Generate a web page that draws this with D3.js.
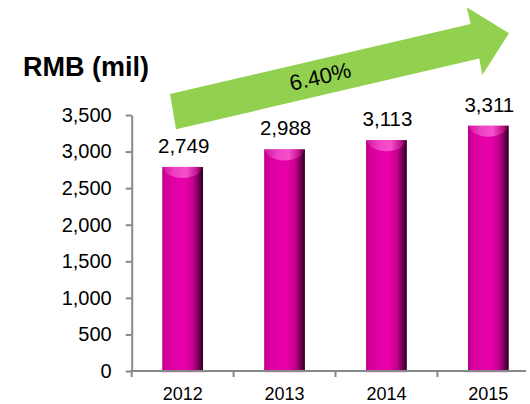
<!DOCTYPE html>
<html>
<head>
<meta charset="utf-8">
<script src="https://cdn.jsdelivr.net/npm/d3@7"></script>
<style>
  html, body { margin: 0; padding: 0; background: #ffffff; }
  svg { display: block; font-family: "Liberation Sans", Arial, sans-serif; }
</style>
</head>
<body>
<svg id="chart" width="530" height="404"></svg>
<script>
const categories = ["2012", "2013", "2014", "2015"];
const values = [2749, 2988, 3113, 3311];
const yTicks = [0, 500, 1000, 1500, 2000, 2500, 3000, 3500];
const unitLabel = "RMB (mil)";
const growthLabel = "6.40%";

const svg = d3.select("#chart");
const axisColor = "#898989";

const x = d3.scaleBand().domain(categories).range([131.7, 539.3])
  .paddingInner(0.6).paddingOuter(0.3);
const y = d3.scaleLinear().domain([0, 3500]).range([371, 115]);

// gradients
const defs = svg.append("defs");
const g1 = defs.append("linearGradient").attr("id", "barGrad")
  .attr("x1", "0%").attr("x2", "100%").attr("y1", "0%").attr("y2", "0%");
[["0%", "#b8007e"], ["8%", "#d2009a"], ["30%", "#e200a6"], ["55%", "#e800aa"],
 ["75%", "#c8008f"], ["88%", "#7a005a"], ["100%", "#2c0020"]]
  .forEach(([o, c]) => g1.append("stop").attr("offset", o).attr("stop-color", c));
const g2 = defs.append("linearGradient").attr("id", "capGrad")
  .attr("x1", "0%").attr("x2", "100%").attr("y1", "0%").attr("y2", "0%");
[["0%", "#d0129a"], ["30%", "#f040c4"], ["60%", "#f650cc"], ["85%", "#c2108e"], ["100%", "#4a0036"]]
  .forEach(([o, c]) => g2.append("stop").attr("offset", o).attr("stop-color", c));

// arrow (annotation)
const arrowPts = [[170, 94], [470.7, 24], [466.7, 7.3], [509, 33.3], [482.3, 75], [479.3, 58.5], [176, 129.3]];
svg.append("polygon")
  .attr("points", arrowPts.map(p => p.join(",")).join(" "))
  .attr("fill", "#92d050");
svg.append("text")
  .attr("transform", "translate(322,84) rotate(-13.1)")
  .attr("text-anchor", "middle")
  .attr("font-size", 22)
  .attr("fill", "#000")
  .text(growthLabel);

// title
svg.append("text")
  .attr("x", 23).attr("y", 76)
  .attr("font-size", 27).attr("font-weight", "bold")
  .attr("fill", "#000")
  .text(unitLabel);

// bars
const capOff = 3;
const bars = svg.append("g").selectAll("g").data(values).join("g");
bars.append("rect")
  .attr("x", (d, i) => x(categories[i]) - 0.5)
  .attr("y", y(0) - 1)
  .attr("width", x.bandwidth() + 1)
  .attr("height", 2.5)
  .attr("fill", "#f7b8e4");
bars.append("rect")
  .attr("x", (d, i) => x(categories[i]))
  .attr("y", d => y(d) - capOff)
  .attr("width", x.bandwidth())
  .attr("height", d => y(0) - y(d) + capOff)
  .attr("fill", "url(#barGrad)");
bars.append("path")
  .attr("d", (d, i) => {
    const x0 = x(categories[i]), w = x.bandwidth(), t = y(d) - capOff;
    return `M${x0},${t} L${x0 + w},${t} L${x0 + w - 5},${t + 7} Q${x0 + w / 2},${t + 15} ${x0 + 5},${t + 7} Z`;
  })
  .attr("fill", "url(#capGrad)");
bars.append("text")
  .attr("x", (d, i) => x(categories[i]) + x.bandwidth() / 2 + 1)
  .attr("y", d => y(d) - 17)
  .attr("text-anchor", "middle")
  .attr("font-size", 20.5)
  .attr("fill", "#000")
  .text(d => d3.format(",")(d));

// y axis
const yAxis = svg.append("g")
  .attr("transform", `translate(${x.range()[0]},0)`)
  .call(d3.axisLeft(y).tickValues(yTicks).tickFormat(d3.format(",")).tickSize(6).tickSizeOuter(0).tickPadding(14));
yAxis.select(".domain").attr("stroke", axisColor).attr("stroke-width", 2);
yAxis.selectAll(".tick line").attr("stroke", axisColor).attr("stroke-width", 2);
yAxis.selectAll(".tick text").attr("font-size", 20).attr("fill", "#000")
  .attr("font-family", "Liberation Sans, Arial, sans-serif");

// x axis
const xg = svg.append("g");
xg.append("line")
  .attr("x1", x.range()[0] - 1).attr("x2", 526)
  .attr("y1", y(0)).attr("y2", y(0))
  .attr("stroke", axisColor).attr("stroke-width", 2);
xg.selectAll("line.tk").data(categories).join("line")
  .attr("class", "tk")
  .attr("x1", d => x(d) - x.step() * x.paddingOuter())
  .attr("x2", d => x(d) - x.step() * x.paddingOuter())
  .attr("y1", y(0)).attr("y2", y(0) + 6)
  .attr("stroke", axisColor).attr("stroke-width", 2);
xg.selectAll("text").data(categories).join("text")
  .attr("x", d => x(d) + x.bandwidth() / 2)
  .attr("y", 400)
  .attr("text-anchor", "middle")
  .attr("font-size", 18)
  .attr("fill", "#000")
  .text(d => d);
</script>
</body>
</html>
